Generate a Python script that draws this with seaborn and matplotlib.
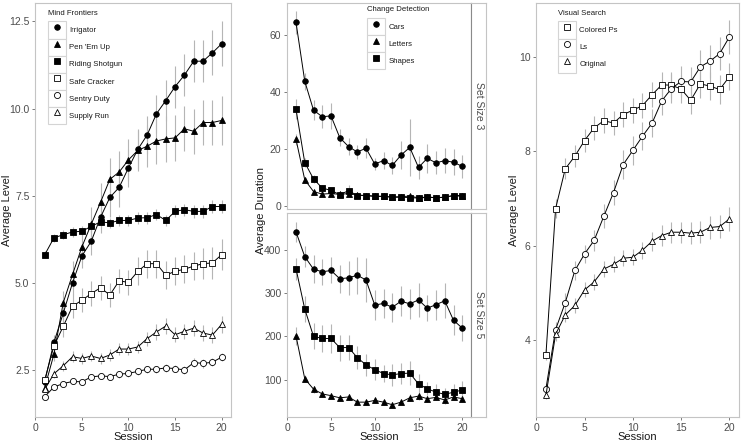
import matplotlib
matplotlib.use("Agg")
import matplotlib.pyplot as plt
import seaborn as sns
from matplotlib.legend_handler import HandlerLine2D
from matplotlib.lines import Line2D
from matplotlib.patches import Rectangle

# ---------------- data ----------------
sessions = list(range(1, 21))

# Mind Frontiers (Average Level)
mf_names = ["Irrigator", "Pen 'Em Up", "Riding Shotgun", "Safe Cracker", "Sentry Duty", "Supply Run"]
irrigator = [2.15, 3.29, 4.13, 5.00, 5.77, 6.19, 6.88, 7.45, 7.74, 8.30, 8.83, 9.24, 9.85, 10.23, 10.63, 10.96, 11.36, 11.36, 11.60, 11.86]
irrigator_err = [0.08, 0.2, 0.3, 0.35, 0.35, 0.4, 0.45, 0.55, 0.55, 0.55, 0.55, 0.55, 0.55, 0.6, 0.6, 0.6, 0.6, 0.6, 0.65, 0.65]
pen_em_up = [1.98, 2.95, 4.43, 5.24, 6.03, 6.68, 7.31, 7.97, 8.18, 8.53, 8.80, 8.92, 9.07, 9.13, 9.16, 9.42, 9.35, 9.60, 9.60, 9.66]
pen_em_up_err = [0.1, 0.2, 0.35, 0.4, 0.45, 0.5, 0.55, 0.6, 0.6, 0.6, 0.6, 0.6, 0.65, 0.65, 0.65, 0.65, 0.65, 0.65, 0.65, 0.7]
riding_shotgun = [5.80, 6.29, 6.38, 6.46, 6.48, 6.62, 6.75, 6.72, 6.79, 6.79, 6.86, 6.87, 6.96, 6.79, 7.05, 7.10, 7.05, 7.05, 7.19, 7.19]
riding_shotgun_err = [0.1, 0.12, 0.13, 0.14, 0.15, 0.15, 0.16, 0.15, 0.16, 0.16, 0.16, 0.17, 0.17, 0.17, 0.17, 0.17, 0.18, 0.18, 0.18, 0.18]
safe_cracker = [2.20, 3.19, 3.75, 4.33, 4.50, 4.69, 4.86, 4.65, 5.06, 5.01, 5.33, 5.55, 5.55, 5.22, 5.33, 5.39, 5.48, 5.55, 5.57, 5.81]
safe_cracker_err = [0.1, 0.2, 0.3, 0.35, 0.35, 0.35, 0.35, 0.35, 0.35, 0.35, 0.4, 0.4, 0.4, 0.4, 0.4, 0.4, 0.4, 0.45, 0.45, 0.45]
sentry_duty = [1.73, 2.01, 2.11, 2.17, 2.16, 2.30, 2.33, 2.31, 2.38, 2.40, 2.46, 2.52, 2.52, 2.56, 2.54, 2.50, 2.71, 2.69, 2.72, 2.87]
sentry_duty_err = [0.05, 0.07, 0.08, 0.08, 0.08, 0.09, 0.09, 0.09, 0.1, 0.1, 0.1, 0.1, 0.1, 0.11, 0.11, 0.11, 0.12, 0.12, 0.12, 0.12]
supply_run = [1.94, 2.39, 2.62, 2.88, 2.83, 2.90, 2.83, 2.93, 3.10, 3.10, 3.16, 3.40, 3.59, 3.76, 3.51, 3.61, 3.70, 3.56, 3.50, 3.81]
supply_run_err = [0.08, 0.12, 0.15, 0.15, 0.15, 0.15, 0.15, 0.16, 0.18, 0.18, 0.18, 0.2, 0.22, 0.22, 0.22, 0.22, 0.22, 0.22, 0.22, 0.25]

# Change Detection (Average Duration), Set Size 3
cd_names = ["Cars", "Letters", "Shapes"]
cars_3 = [64.2, 43.7, 33.6, 31.3, 31.6, 24.0, 20.9, 19.0, 20.3, 14.8, 16.0, 14.3, 17.9, 20.6, 13.6, 16.8, 15.2, 16.0, 15.4, 14.0]
cars_3_err = [4, 3, 3.5, 4, 4.5, 3, 3, 2.5, 3.5, 2, 3, 3, 5, 10, 4, 5, 4, 4.5, 4.5, 4]
letters_3 = [23.4, 9.3, 5.2, 4.3, 4.5, 4.2, 4.5, 4.0, 3.8, 3.6, 3.5, 3.3, 3.4, 3.6, 3.0, 3.3, 3.0, 3.2, 3.8, 3.5]
letters_3_err = [2, 1, 0.6, 0.5, 0.5, 0.5, 0.5, 0.5, 0.5, 0.4, 0.4, 0.4, 0.4, 0.5, 0.4, 0.4, 0.4, 0.4, 0.5, 0.4]
shapes_3 = [33.9, 15.3, 9.6, 6.4, 5.6, 4.1, 5.5, 3.8, 3.8, 3.5, 3.5, 3.2, 3.2, 3.1, 2.9, 3.2, 3.1, 3.2, 3.8, 3.8]
shapes_3_err = [3.5, 1.5, 1.5, 1, 1, 0.7, 2, 0.6, 0.6, 0.5, 0.5, 0.5, 0.5, 0.5, 0.4, 0.5, 0.5, 0.5, 0.6, 0.6]

# Change Detection, Set Size 5
cars_5 = [441, 384, 355, 349, 352, 333, 335, 341, 330, 272, 276, 267, 281, 275, 284, 265, 273, 282, 237, 219]
cars_5_err = [24, 25, 32, 30, 30, 32, 40, 43, 50, 35, 33, 33, 35, 35, 40, 30, 35, 40, 35, 30]
letters_5 = [201, 102, 78, 67, 63, 58, 60, 48, 48, 52, 48, 42, 48, 58, 62, 56, 59, 53, 60, 56]
letters_5_err = [20, 8, 8, 6, 6, 5, 6, 5, 6, 6, 6, 6, 5, 8, 8, 8, 7, 10, 8, 8]
shapes_5 = [356, 263, 200, 195, 195, 174, 174, 151, 134, 123, 114, 111, 114, 115, 90, 79, 71, 66, 71, 76]
shapes_5_err = [25, 30, 30, 32, 33, 30, 28, 27, 25, 25, 20, 25, 25, 28, 22, 15, 18, 15, 18, 20]

# Visual Search (Average Level)
vs_names = ["Colored Ps", "Ls", "Original"]
colored_ps = [3.70, 6.79, 7.63, 7.90, 8.23, 8.50, 8.65, 8.60, 8.78, 8.87, 8.97, 9.20, 9.41, 9.40, 9.32, 9.08, 9.43, 9.38, 9.31, 9.58]
colored_ps_err = [0.12, 0.2, 0.22, 0.24, 0.25, 0.25, 0.26, 0.26, 0.26, 0.27, 0.27, 0.27, 0.28, 0.28, 0.3, 0.28, 0.3, 0.3, 0.3, 0.28]
ls = [2.98, 4.23, 4.80, 5.48, 5.83, 6.12, 6.63, 7.13, 7.72, 8.02, 8.32, 8.60, 9.07, 9.33, 9.48, 9.47, 9.79, 9.91, 10.07, 10.42]
ls_err = [0.1, 0.15, 0.2, 0.2, 0.2, 0.22, 0.25, 0.27, 0.3, 0.3, 0.3, 0.3, 0.3, 0.3, 0.32, 0.32, 0.35, 0.35, 0.35, 0.35]
original = [2.84, 4.13, 4.54, 4.74, 5.07, 5.24, 5.51, 5.61, 5.74, 5.76, 5.91, 6.10, 6.22, 6.29, 6.29, 6.27, 6.29, 6.39, 6.41, 6.57]
original_err = [0.08, 0.15, 0.15, 0.16, 0.16, 0.17, 0.17, 0.17, 0.17, 0.17, 0.18, 0.2, 0.22, 0.22, 0.22, 0.23, 0.23, 0.24, 0.24, 0.25]

# ---------------- style ----------------
sns.set_theme(style="white")
plt.rcParams["font.family"] = ["Liberation Sans", "DejaVu Sans"]

FILLED, OPEN = "black", "white"
mf_styles = [("o", FILLED, 4.0), ("^", FILLED, 4.6), ("s", FILLED, 3.8),
             ("s", OPEN, 4.2), ("o", OPEN, 4.4), ("^", OPEN, 5.0)]
cd_styles = [("o", FILLED, 4.0), ("^", FILLED, 4.6), ("s", FILLED, 3.8)]
vs_styles = [("s", OPEN, 4.2), ("o", OPEN, 4.4), ("^", OPEN, 5.0)]

BORDER = "#c4c4c4"
TICKLAB = "#4d4d4d"


class BoxHandler(HandlerLine2D):
    def create_artists(self, legend, orig_handle, xdescent, ydescent, width, height, fontsize, trans):
        arts = super().create_artists(legend, orig_handle, xdescent, ydescent, width, height, fontsize, trans)
        r = Rectangle((-xdescent, -ydescent), width, height, facecolor="white",
                      edgecolor="#d4d4d4", lw=0.8, transform=trans)
        return [r] + list(arts)


def draw(ax, vals, errs, styles):
    handles = []
    for v, e, (mk, fc, ms) in zip(vals, errs, styles):
        ax.errorbar(sessions, v, yerr=e, fmt="none", ecolor="#b5b5b5", elinewidth=0.8, capsize=0, zorder=1)
        sns.lineplot(x=sessions, y=v, ax=ax, color="black", lw=0.7, marker=mk, markersize=ms,
                     markerfacecolor=fc, markeredgecolor="black", markeredgewidth=0.6, zorder=3)
        handles.append(Line2D([], [], ls="None", marker=mk, markersize=ms, mfc=fc, mec="black", mew=0.6))
    return handles


def style_ax(ax):
    for s in ax.spines.values():
        s.set_color(BORDER)
        s.set_linewidth(0.8)
    ax.tick_params(bottom=True, left=True, length=2.5, width=0.6, color="#666666",
                   labelsize=7.5, labelcolor=TICKLAB, pad=1.5)
    ax.set_xlim(-0.03, 21.0)
    ax.set_xlabel("")
    ax.set_ylabel("")


def add_legend(ax, handles, names, title, x):
    leg = ax.legend(handles, names, title=title, loc="upper left", bbox_to_anchor=(x, 0.984),
                    borderaxespad=0, borderpad=0, frameon=False, fontsize=5.6, title_fontsize=5.6,
                    handlelength=2.3, handleheight=3.0, labelspacing=0, handletextpad=0.45,
                    alignment="left", handler_map={h: BoxHandler(numpoints=1) for h in handles})
    leg._legend_box.sep = 3.5
    leg.get_title().set_color("#1a1a1a")
    for t in leg.get_texts():
        t.set_color("#1a1a1a")


W, H = 742, 443
fig = plt.figure(figsize=(W / 100, H / 100), dpi=100)


def box(x0, y0, x1, y1):
    return [x0 / W, 1 - y1 / H, (x1 - x0) / W, (y1 - y0) / H]


# Left panel
axL = fig.add_axes(box(35, 3, 231, 417))
h = draw(axL, [irrigator, pen_em_up, riding_shotgun, safe_cracker, sentry_duty, supply_run],
         [irrigator_err, pen_em_up_err, riding_shotgun_err, safe_cracker_err, sentry_duty_err, supply_run_err],
         mf_styles)
style_ax(axL)
axL.set_ylim(1.15, 13.03)
axL.set_yticks([2.5, 5.0, 7.5, 10.0, 12.5])
axL.set_yticklabels(["2.5", "5.0", "7.5", "10.0", "12.5"])
axL.set_xticks([0, 5, 10, 15, 20])
add_legend(axL, h, mf_names, "Mind Frontiers", 0.066)

# Middle panels
axT = fig.add_axes(box(287, 3, 471, 209))
h = draw(axT, [cars_3, letters_3, shapes_3], [cars_3_err, letters_3_err, shapes_3_err], cd_styles)
style_ax(axT)
axT.set_ylim(-0.9, 71.0)
axT.set_yticks([0, 20, 40, 60])
axT.set_xticks([0, 5, 10, 15, 20])
axT.tick_params(bottom=False, labelbottom=False)
add_legend(axT, h, cd_names, "Change Detection", 0.437)

axB = fig.add_axes(box(287, 213, 471, 417))
draw(axB, [cars_5, letters_5, shapes_5], [cars_5_err, letters_5_err, shapes_5_err], cd_styles)
style_ax(axB)
axB.set_ylim(13.7, 484.7)
axB.set_yticks([100, 200, 300, 400])
axB.set_xticks([0, 5, 10, 15, 20])

for (y0, y1, lab) in [(3, 209, "Set Size 3"), (213, 417, "Set Size 5")]:
    sa = fig.add_axes(box(471, y0, 486, y1))
    sa.set_facecolor("white")
    sa.set_xticks([])
    sa.set_yticks([])
    for s in sa.spines.values():
        s.set_color(BORDER)
        s.set_linewidth(0.8)
    sa.spines["left"].set_color("#8a8a8a")
    sa.text(0.5, 0.5, lab, rotation=270, ha="center", va="center", fontsize=7.5,
            color=TICKLAB, transform=sa.transAxes)

# Right panel
axR = fig.add_axes(box(536, 3, 739, 417))
h = draw(axR, [colored_ps, ls, original], [colored_ps_err, ls_err, original_err], vs_styles)
style_ax(axR)
axR.set_ylim(2.38, 11.14)
axR.set_yticks([4, 6, 8, 10])
axR.set_xticks([0, 5, 10, 15, 20])
add_legend(axR, h, vs_names, "Visual Search", 0.108)

# Axis titles
for xc in [133, 379, 637]:
    fig.text(xc / W, 1 - 437 / H, "Session", ha="center", va="center", fontsize=8, color="#1a1a1a")
fig.text(7 / W, 1 - 210 / H, "Average Level", rotation=90, ha="center", va="center", fontsize=8, color="#1a1a1a")
fig.text(261 / W, 1 - 210 / H, "Average Duration", rotation=90, ha="center", va="center", fontsize=8, color="#1a1a1a")
fig.text(514 / W, 1 - 210 / H, "Average Level", rotation=90, ha="center", va="center", fontsize=8, color="#1a1a1a")

fig.savefig("out.png", dpi=100, facecolor="white")
